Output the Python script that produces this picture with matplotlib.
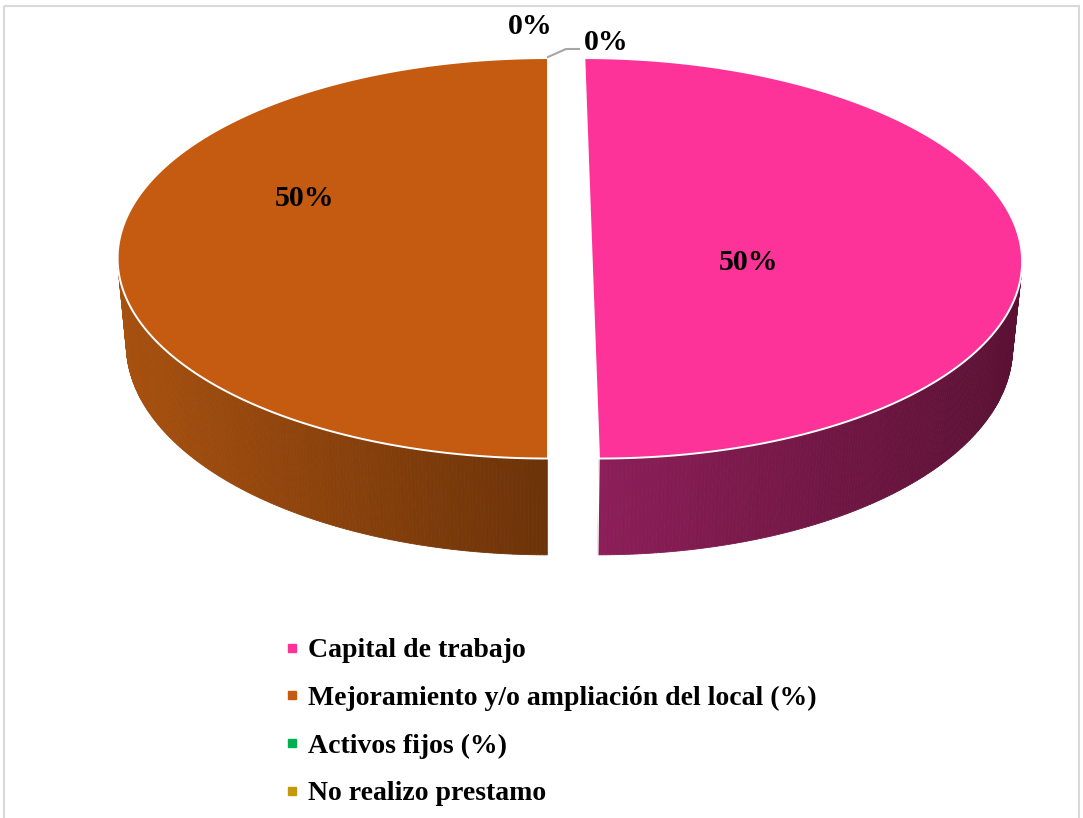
import numpy as np
import matplotlib
matplotlib.use("Agg")
import matplotlib.pyplot as plt
from matplotlib.patches import Polygon, Rectangle
from matplotlib.lines import Line2D
from matplotlib.colors import to_rgb

# ---------------- data ----------------
categories = ["Capital de trabajo",
              "Mejoramiento y/o ampliación del local (%)",
              "Activos fijos (%)",
              "No realizo prestamo"]
values = [50, 50, 0, 0]
labels = ["50%", "50%", "0%", "0%"]

# ---------------- style ----------------
top_colors = ["#FD3399", "#C55A11", "#00B050", "#C49A0C"]
wall_light = ["#8E1F5A", "#A8510F", "#00803A", "#9A7808"]
wall_dark = ["#5A1133", "#6C3309", "#005020", "#6A5205"]
explode = [0.10, 0.0, 0.0, 0.0]
FONT = "Liberation Serif"

W, H = 1083, 818
fig = plt.figure(figsize=(W / 100, H / 100), dpi=100)
ax = fig.add_axes([0, 0, 1, 1])
ax.set_xlim(0, W)
ax.set_ylim(H, 0)
ax.axis("off")

# ---------------- projection (perspective 3-D pie) ----------------
cx, cy = 548.0, 224.6
F, dist = 2240.0, 5.28
s_t, c_t = 0.4586, 0.8886
depth = 0.23


def proj(x, y, z):
    x = np.asarray(x, float); y = np.asarray(y, float); z = np.asarray(z, float)
    yp = y * s_t + z * c_t
    w = y * c_t - z * s_t
    k = F / (dist + w)
    return cx + x * k, cy - yp * k


cam = np.array([0.0, -dist * c_t, dist * s_t])


def mix(c1, c2, t):
    a, b = np.array(to_rgb(c1)), np.array(to_rgb(c2))
    return tuple(a + (b - a) * t)


total = float(sum(values))
cum = np.concatenate([[0], np.cumsum(values)])
start_ang = 90.0

walls, cuts, tops = [], [], []
for i, v in enumerate(values):
    if v <= 0:
        continue
    a0 = np.deg2rad(start_ang - 360 * cum[i] / total)
    a1 = np.deg2rad(start_ang - 360 * cum[i + 1] / total)
    mid = (a0 + a1) / 2
    ox, oy = explode[i] * np.cos(mid), explode[i] * np.sin(mid)
    phis = np.linspace(a0, a1, 400)
    # top face
    xs = np.concatenate([[ox], ox + np.cos(phis), [ox]])
    ys = np.concatenate([[oy], oy + np.sin(phis), [oy]])
    X, Y = proj(xs, ys, np.zeros_like(xs))
    tops.append(Polygon(np.c_[X, Y], closed=True, facecolor=top_colors[i],
                        edgecolor="white", lw=1.4, joinstyle="round", zorder=5))
    # cut faces (radial sides)
    for a in (a0, a1):
        n = np.array([np.sin(a), -np.cos(a), 0.0])
        if a == a1:
            n = -n
        p = np.array([ox, oy, 0.0])
        if np.dot(cam - p, n) > 1e-6:
            ex_, ey_ = ox + np.cos(a), oy + np.sin(a)
            X, Y = proj([ox, ex_, ex_, ox], [oy, ey_, ey_, oy], [0, 0, -depth, -depth])
            cuts.append(Polygon(np.c_[X, Y], closed=True, facecolor=wall_dark[i],
                                edgecolor="none", zorder=2))
    # outer wall (visible segments only)
    Xt_all, _ = proj(ox + np.cos(phis), oy + np.sin(phis), np.zeros_like(phis))
    xmin, xmax = Xt_all.min(), Xt_all.max()
    for j in range(len(phis) - 1):
        pm = (phis[j] + phis[j + 1]) / 2
        P = np.array([ox + np.cos(pm), oy + np.sin(pm), -depth / 2])
        nrm = np.array([np.cos(pm), np.sin(pm), 0.0])
        if np.dot(cam - P, nrm) <= 0:
            continue
        pp = phis[j:j + 2]
        xs = np.r_[ox + np.cos(pp), ox + np.cos(pp[::-1])]
        ys = np.r_[oy + np.sin(pp), oy + np.sin(pp[::-1])]
        zs = np.r_[0, 0, -depth, -depth]
        X, Y = proj(xs, ys, zs)
        t = (X.mean() - xmin) / (xmax - xmin)
        col = mix(wall_light[i], wall_dark[i], np.clip(t, 0, 1))
        walls.append(Polygon(np.c_[X, Y], closed=True, facecolor=col,
                             edgecolor=col, lw=0.6, zorder=3))

for p in cuts + walls + tops:
    ax.add_patch(p)

# front vertical white edges of walls
for i, v in enumerate(values):
    if v <= 0:
        continue
    a0 = np.deg2rad(start_ang - 360 * cum[i] / total)
    a1 = np.deg2rad(start_ang - 360 * cum[i + 1] / total)
    mid = (a0 + a1) / 2
    ox, oy = explode[i] * np.cos(mid), explode[i] * np.sin(mid)
    for a in (a0, a1):
        ex_, ey_ = ox + np.cos(a), oy + np.sin(a)
        if ey_ < -0.5:
            X, Y = proj([ex_, ex_], [ey_, ey_], [0, -depth])
            ax.plot(X, Y, color="white", lw=1.0, zorder=4)

# ---------------- data labels ----------------
lab_pos = [(748, 263), (305, 198), (530, 27), (606, 42)]
for (lx, ly), txt in zip(lab_pos, labels):
    ax.text(lx, ly, txt, ha="center", va="center", fontsize=21.5,
            fontweight="bold", family=FONT, color="black", zorder=8)
# leader line for the small label
ax.plot([548, 566, 579], [57, 49, 49], color="#A6A6A6", lw=1.5, zorder=7)

# ---------------- legend ----------------
handles = [Line2D([], [], linestyle="none", marker="s", markersize=5.5,
                  markerfacecolor=c, markeredgecolor=c) for c in top_colors]
leg = fig.legend(handles, categories, loc="upper left",
                 bbox_to_anchor=(286 / W, 1 - 638 / H), frameon=False,
                 prop={"family": FONT, "weight": "bold", "size": 20.0},
                 handlelength=0.45, handletextpad=0.33, labelspacing=0.80,
                 borderpad=0, borderaxespad=0)

# ---------------- outer frame ----------------
ax.add_patch(Rectangle((3.5, 5.5), W - 7.5, H + 20, facecolor="none",
                       edgecolor="#D9D9D9", lw=1.5, zorder=0))

fig.savefig("out.png", dpi=100, facecolor="white")
